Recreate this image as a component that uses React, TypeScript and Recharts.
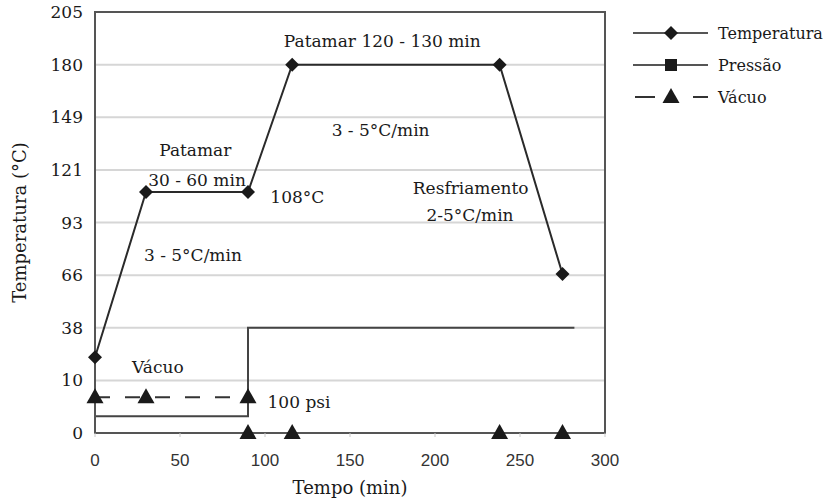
import React from "react";
import {
  LineChart, Line, XAxis, YAxis, CartesianGrid, ReferenceArea, ReferenceDot,
} from "recharts";

// ─── Data (y values are positions on the evenly spaced temperature scale) ─────

const tempLabels = ["0", "10", "38", "66", "93", "121", "149", "180", "205"];
const tempTicks = [0, 1, 2, 3, 4, 5, 6, 7, 8];
const timeTicks = [0, 50, 100, 150, 200, 250, 300];

const tempTime = [0, 30, 90, 116, 238, 275];
const tempLevel = [1.44, 4.58, 4.58, 7, 7, 3.02];

const pressTime = [0, 90, 90, 282];
const pressLevel = [0.32, 0.32, 2, 2];

const vacTime = [0, 30, 90, 90, 90, 116, 238, 275];
const vacLevel: (number | null)[] = [0.68, 0.68, 0.68, null, 0, 0, 0, 0];

const notes = [
  { text: "Patamar", t: 59, v: 5.38 },
  { text: "30 - 60 min", t: 60, v: 4.81 },
  { text: "108°C", t: 119, v: 4.49 },
  { text: "3 - 5°C/min", t: 57.6, v: 3.38 },
  { text: "Patamar 120 - 130 min", t: 169, v: 7.45 },
  { text: "3 - 5°C/min", t: 168, v: 5.76 },
  { text: "Resfriamento", t: 221, v: 4.66 },
  { text: "2-5°C/min", t: 220.6, v: 4.14 },
  { text: "Vácuo", t: 37, v: 1.25 },
  { text: "100 psi", t: 120, v: 0.59 },
];

const zip = (ts: number[], vs: (number | null)[]) => ts.map((t, i) => ({ t, v: vs[i] }));

const tempData = zip(tempTime, tempLevel);
const pressData = zip(pressTime, pressLevel);
const vacData = zip(vacTime, vacLevel);

// ─── Styles ───────────────────────────────────────────────────────────────────

const serif = "'DejaVu Serif', serif";
const sans = "'Liberation Sans', Arial, sans-serif";
const ink = "#1a1a1a";

// ─── Markers ──────────────────────────────────────────────────────────────────

function diamond(p: any) {
  const { cx, cy, index } = p;
  if (cx == null || cy == null) return <g key={`d${index}`} />;
  return (
    <path key={`d${index}`} fill={ink} stroke="none"
      d={`M${cx},${cy - 7}L${cx + 7},${cy}L${cx},${cy + 7}L${cx - 7},${cy}Z`} />
  );
}

function triangle(p: any) {
  const { cx, cy, index } = p;
  if (cx == null || cy == null) return <g key={`t${index}`} />;
  return (
    <path key={`t${index}`} fill={ink} stroke="none"
      d={`M${cx},${cy - 9}L${cx + 8.5},${cy + 6}L${cx - 8.5},${cy + 6}Z`} />
  );
}

// ─── Legend ───────────────────────────────────────────────────────────────────

const legendItems = [
  { name: "Temperatura", marker: "diamond", dashed: false },
  { name: "Pressão", marker: "square", dashed: false },
  { name: "Vácuo", marker: "triangle", dashed: true },
];

function ChartLegend() {
  return (
    <svg width={199} height={100} style={{ position: "absolute", left: 630, top: 18 }}>
      {legendItems.map((it, i) => {
        const y = 15 + i * 32;
        const cx = 41;
        return (
          <g key={it.name}>
            {it.dashed ? (
              <>
                <line x1={5} x2={25} y1={y} y2={y} stroke="#333" strokeWidth={2} />
                <line x1={63} x2={78} y1={y} y2={y} stroke="#333" strokeWidth={2} />
              </>
            ) : (
              <line x1={3} x2={78} y1={y} y2={y} stroke="#555" strokeWidth={2} />
            )}
            {it.marker === "diamond" && (
              <path fill={ink} d={`M${cx},${y - 7}L${cx + 7},${y}L${cx},${y + 7}L${cx - 7},${y}Z`} />
            )}
            {it.marker === "square" && <rect x={cx - 6} y={y - 6} width={12} height={12} fill={ink} />}
            {it.marker === "triangle" && (
              <path fill={ink} d={`M${cx},${y - 9}L${cx + 8.5},${y + 6}L${cx - 8.5},${y + 6}Z`} />
            )}
            <text x={88} y={y} dominantBaseline="central" fontFamily={serif} fontSize={16} fill={ink}>
              {it.name}
            </text>
          </g>
        );
      })}
    </svg>
  );
}

// ─── Main ─────────────────────────────────────────────────────────────────────

export default function App() {
  return (
    <div style={{ position: "relative", width: 829, height: 501, background: "#fff" }}>
      <style>{"body{margin:0}"}</style>
      <LineChart width={829} height={501} margin={{ top: 12, right: 224, bottom: 0, left: 0 }}>
        <CartesianGrid vertical={false} stroke="#d6d6d6" strokeWidth={2} />
        <XAxis
          type="number"
          dataKey="t"
          domain={[0, 300]}
          ticks={timeTicks}
          height={68}
          stroke="#555"
          axisLine={{ stroke: "#555", strokeWidth: 2 }}
          tickLine={{ stroke: "#c8c8c8" }}
          tickSize={4}
          tickMargin={17}
          tick={{ fill: "#333", fontSize: 17, fontFamily: sans }}
          label={{ value: "Tempo (min)", position: "insideBottom", offset: 7, fill: ink, fontSize: 18, fontFamily: serif }}
        />
        <YAxis
          type="number"
          domain={[0, 8]}
          ticks={tempTicks}
          width={95}
          axisLine={{ stroke: "#555", strokeWidth: 2 }}
          tickLine={false}
          tickSize={6}
          tickMargin={6}
          tickFormatter={(v: number) => tempLabels[v]}
          tick={{ fill: ink, fontSize: 17, fontFamily: serif }}
          label={{
            value: "Temperatura (°C)", angle: -90, position: "insideLeft", offset: 20,
            fill: ink, fontSize: 18, fontFamily: serif, style: { textAnchor: "middle" },
          }}
        />
        <ReferenceArea x1={0} x2={300} y1={0} y2={8} fill="none" stroke="#555" strokeWidth={2} />
        <Line data={pressData} dataKey="v" name="Pressão" stroke="#444" strokeWidth={2}
          dot={false} isAnimationActive={false} />
        <Line data={vacData} dataKey="v" name="Vácuo" stroke="#333" strokeWidth={2}
          strokeDasharray="15 15" dot={triangle} isAnimationActive={false} />
        <Line data={tempData} dataKey="v" name="Temperatura" stroke="#2a2a2a" strokeWidth={2}
          dot={diamond} isAnimationActive={false} />
        {notes.map((n, i) => (
          <ReferenceDot key={i} x={n.t} y={n.v} r={0} fill="none" stroke="none"
            label={{ value: n.text, position: "center", fill: ink, fontSize: 17, fontFamily: serif }} />
        ))}
      </LineChart>
      <ChartLegend />
    </div>
  );
}
